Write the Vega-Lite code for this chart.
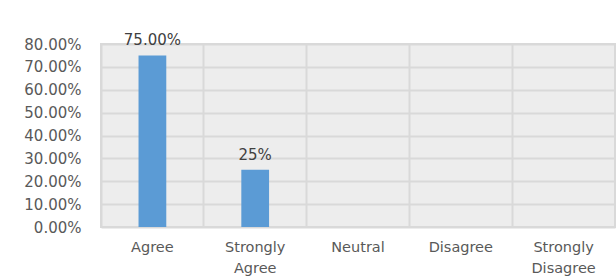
{
  "$schema": "https://vega.github.io/schema/vega-lite/v6.json",
  "autosize": "none",
  "width": 514,
  "height": 183,
  "padding": {"left": 101, "top": 44, "right": 1, "bottom": 51},
  "background": "white",
  "config": {
    "font": "DejaVu Sans",
    "view": {"fill": "#ededed", "stroke": "#d9d9d9", "strokeWidth": 2}
  },
  "data": {
    "values": [
      {"response": "Agree", "share": 0.75, "label": "75.00%"},
      {"response": "Strongly Agree", "share": 0.25, "label": "25%"},
      {"response": "Neutral", "share": 0, "label": ""},
      {"response": "Disagree", "share": 0, "label": ""},
      {"response": "Strongly Disagree", "share": 0, "label": ""}
    ]
  },
  "encoding": {
    "x": {
      "field": "response",
      "type": "nominal",
      "sort": null,
      "scale": {"paddingInner": 0, "paddingOuter": 0},
      "axis": {
        "title": null,
        "labelAngle": 0,
        "ticks": false,
        "domain": false,
        "grid": true,
        "bandPosition": 0,
        "gridColor": "#d9d9d9",
        "gridWidth": 2,
        "labelFont": "DejaVu Sans",
        "labelFontSize": 14.5,
        "labelColor": "#595959",
        "labelPadding": 13,
        "labelLineHeight": 21,
        "labelBaseline": "top",
        "labelExpr": "split(datum.label, ' ')"
      }
    },
    "y": {
      "field": "share",
      "type": "quantitative",
      "scale": {"domain": [0, 0.8], "nice": false},
      "axis": {
        "title": null,
        "format": ".2%",
        "values": [0, 0.1, 0.2, 0.3, 0.4, 0.5, 0.6, 0.7, 0.8],
        "ticks": false,
        "domain": false,
        "gridColor": "#d9d9d9",
        "gridWidth": 2,
        "labelFont": "DejaVu Sans",
        "labelFontSize": 15,
        "labelColor": "#595959",
        "labelPadding": 20
      }
    }
  },
  "layer": [
    {
      "mark": {"type": "bar", "color": "#5b9bd5", "width": {"band": 0.27}}
    },
    {
      "mark": {"type": "text", "dy": -15, "fontSize": 15, "color": "#404040", "font": "DejaVu Sans"},
      "encoding": {"text": {"field": "label"}}
    }
  ]
}
